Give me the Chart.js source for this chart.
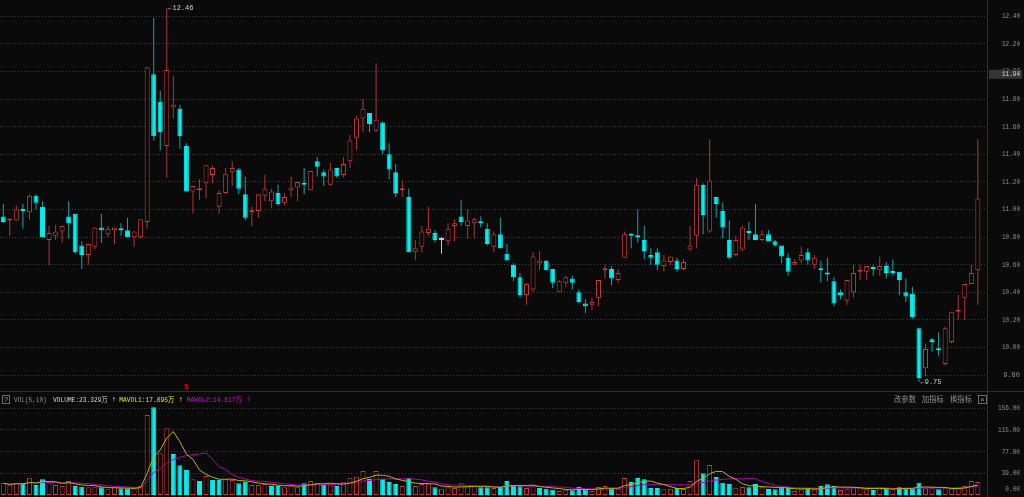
<!DOCTYPE html>
<html>
<head>
<meta charset="utf-8">
<script src="https://cdn.jsdelivr.net/npm/chart.js@4.4.0/dist/chart.umd.min.js"></script>
<style>
    html, body { margin: 0; padding: 0; background: #0a0a0a; overflow: hidden; }
    #wrap { position: relative; width: 1024px; height: 497px; }
    #price { position: absolute; left: 0; top: 0; }
    #vol { position: absolute; left: 0; top: 392px; }
</style>
</head>
<body>
<div id="wrap">
    <canvas id="price" width="1024" height="392"></canvas>
    <canvas id="vol" width="1024" height="105"></canvas>
</div>
<script>
// daily candles
const opens = [
    10.95, 10.92, 10.92, 11.00, 10.98, 11.10, 11.02, 10.78, 10.81, 10.84,
    10.95, 10.97, 10.74, 10.67, 10.73, 10.87, 10.82, 10.85, 10.86, 10.85,
    10.80, 10.80, 10.91, 11.98, 11.78, 11.46, 11.74, 11.73, 11.46, 11.13,
    11.14, 11.19, 11.25, 11.02, 11.12, 11.27, 11.29, 11.11, 10.98, 10.99,
    11.10, 11.06, 11.12, 11.05, 11.14, 11.16, 11.19, 11.14, 11.35, 11.27,
    11.18, 11.30, 11.25, 11.35, 11.52, 11.66, 11.70, 11.57, 11.63, 11.40,
    11.27, 11.14, 11.09, 10.69, 10.73, 10.83, 10.83, 10.78, 10.77, 10.88,
    10.95, 10.88, 10.90, 10.91, 10.86, 10.73, 10.82, 10.68, 10.60, 10.51,
    10.38, 10.42, 10.61, 10.63, 10.57, 10.40, 10.47, 10.50, 10.40, 10.32,
    10.31, 10.36, 10.56, 10.57, 10.49, 10.65, 10.82, 10.81, 10.78, 10.67,
    10.69, 10.59, 10.62, 10.63, 10.57, 10.71, 10.81, 11.18, 10.84, 11.09,
    10.99, 10.78, 10.67, 10.71, 10.84, 10.82, 10.78, 10.82, 10.77, 10.74,
    10.65, 10.60, 10.63, 10.69, 10.60, 10.57, 10.54, 10.48, 10.40, 10.34,
    10.40, 10.55, 10.55, 10.58, 10.56, 10.59, 10.55, 10.55, 10.40, 10.39,
    10.14, 9.85, 10.06, 9.99, 9.88, 10.04, 10.26, 10.36, 10.46, 10.56
];
const highs = [
    11.04, 10.93, 11.03, 11.04, 11.11, 11.11, 11.06, 10.88, 10.89, 10.88,
    11.06, 10.97, 10.77, 10.75, 10.87, 10.97, 10.88, 10.87, 10.90, 10.94,
    10.84, 10.93, 12.03, 12.39, 11.86, 12.46, 11.97, 11.76, 11.48, 11.17,
    11.22, 11.32, 11.32, 11.14, 11.30, 11.35, 11.30, 11.24, 11.02, 11.11,
    11.25, 11.15, 11.18, 11.12, 11.24, 11.20, 11.30, 11.28, 11.38, 11.29,
    11.34, 11.30, 11.38, 11.54, 11.68, 11.80, 11.70, 12.06, 11.64, 11.48,
    11.33, 11.21, 11.15, 10.78, 10.88, 11.02, 10.85, 10.80, 10.90, 10.93,
    11.07, 11.00, 10.94, 10.95, 10.90, 10.84, 10.94, 10.75, 10.61, 10.54,
    10.47, 10.69, 10.70, 10.63, 10.57, 10.49, 10.52, 10.52, 10.42, 10.35,
    10.36, 10.49, 10.60, 10.59, 10.57, 10.84, 10.83, 11.00, 10.88, 10.72,
    10.72, 10.67, 10.66, 10.65, 10.64, 10.88, 11.23, 11.19, 11.51, 11.09,
    11.05, 10.92, 10.81, 10.88, 10.91, 11.04, 10.85, 10.85, 10.78, 10.74,
    10.68, 10.64, 10.73, 10.72, 10.67, 10.63, 10.65, 10.51, 10.42, 10.49,
    10.60, 10.60, 10.59, 10.60, 10.66, 10.62, 10.64, 10.55, 10.50, 10.44,
    10.14, 10.03, 10.07, 10.11, 10.15, 10.26, 10.38, 10.46, 10.60, 11.51
];
const lows = [
    10.90, 10.81, 10.92, 10.86, 10.93, 11.00, 10.80, 10.60, 10.78, 10.76,
    10.79, 10.68, 10.57, 10.60, 10.71, 10.76, 10.80, 10.75, 10.81, 10.80,
    10.73, 10.79, 10.86, 11.50, 11.43, 11.23, 11.66, 11.44, 11.13, 10.97,
    11.07, 11.08, 11.19, 10.97, 11.11, 11.17, 11.11, 10.92, 10.88, 10.94,
    11.06, 11.01, 11.03, 11.03, 11.09, 11.06, 11.11, 11.14, 11.24, 11.17,
    11.17, 11.23, 11.23, 11.30, 11.43, 11.56, 11.56, 11.56, 11.40, 11.22,
    11.09, 11.09, 10.69, 10.63, 10.69, 10.81, 10.76, 10.68, 10.74, 10.77,
    10.88, 10.79, 10.79, 10.87, 10.74, 10.69, 10.72, 10.63, 10.48, 10.36,
    10.31, 10.40, 10.56, 10.56, 10.43, 10.40, 10.44, 10.42, 10.32, 10.25,
    10.27, 10.30, 10.50, 10.45, 10.47, 10.65, 10.72, 10.76, 10.64, 10.60,
    10.56, 10.55, 10.60, 10.55, 10.56, 10.70, 10.72, 10.82, 10.83, 10.94,
    10.79, 10.64, 10.66, 10.70, 10.78, 10.78, 10.77, 10.77, 10.73, 10.61,
    10.52, 10.60, 10.61, 10.60, 10.57, 10.47, 10.48, 10.30, 10.35, 10.31,
    10.36, 10.49, 10.49, 10.52, 10.52, 10.50, 10.52, 10.38, 10.33, 10.21,
    9.75, 9.79, 9.97, 9.94, 9.87, 10.03, 10.20, 10.20, 10.46, 10.31
];
const closes = [
    10.91, 10.93, 11.00, 10.99, 11.10, 11.05, 10.80, 10.83, 10.84, 10.88,
    10.90, 10.69, 10.67, 10.75, 10.87, 10.85, 10.86, 10.87, 10.85, 10.80,
    10.84, 10.93, 12.03, 11.53, 11.56, 12.01, 11.76, 11.53, 11.13, 11.17,
    11.15, 11.32, 11.30, 11.12, 11.26, 11.30, 11.15, 10.94, 10.99, 11.11,
    11.15, 11.13, 11.04, 11.09, 11.16, 11.20, 11.18, 11.28, 11.31, 11.24,
    11.29, 11.24, 11.33, 11.50, 11.66, 11.73, 11.62, 11.65, 11.43, 11.29,
    11.12, 11.15, 10.69, 10.72, 10.84, 10.86, 10.78, 10.78, 10.86, 10.90,
    10.91, 10.92, 10.93, 10.90, 10.75, 10.82, 10.72, 10.63, 10.51, 10.38,
    10.46, 10.66, 10.63, 10.56, 10.47, 10.48, 10.51, 10.47, 10.33, 10.30,
    10.33, 10.49, 10.57, 10.50, 10.54, 10.82, 10.81, 10.80, 10.70, 10.65,
    10.60, 10.63, 10.66, 10.57, 10.62, 10.74, 11.18, 10.96, 11.21, 11.04,
    10.87, 10.65, 10.78, 10.87, 10.83, 10.78, 10.82, 10.77, 10.74, 10.66,
    10.55, 10.62, 10.67, 10.63, 10.65, 10.56, 10.53, 10.32, 10.38, 10.49,
    10.54, 10.56, 10.59, 10.57, 10.59, 10.54, 10.54, 10.49, 10.37, 10.22,
    9.78, 9.99, 10.04, 9.98, 10.14, 10.26, 10.27, 10.46, 10.54, 11.08
];
// volume, in 万
const volumes = [
    21.0, 17.4, 22.2, 19.8, 31.2, 18.0, 28.2, 24.0, 18.0, 16.2,
    25.2, 16.2, 15.0, 13.8, 13.8, 13.8, 10.2, 13.8, 12.0, 12.0,
    12.0, 16.2, 144.0, 158.0, 75.0, 120.0, 73.8, 53.4, 45.0, 28.2,
    25.2, 34.2, 27.0, 27.0, 28.2, 27.0, 21.0, 24.0, 18.0, 18.0,
    19.8, 16.2, 16.2, 13.8, 17.4, 15.0, 21.0, 25.2, 22.2, 18.0,
    19.8, 16.2, 22.8, 31.2, 33.0, 43.2, 28.8, 43.2, 29.4, 23.4,
    19.8, 16.2, 31.2, 16.2, 19.8, 19.2, 13.8, 11.4, 13.8, 12.6,
    21.0, 15.6, 15.6, 13.8, 13.8, 12.6, 14.4, 25.2, 18.0, 15.6,
    12.6, 17.4, 12.6, 11.4, 9.6, 7.2, 9.6, 8.4, 14.4, 10.2,
    7.2, 14.4, 16.2, 12.6, 11.4, 30.6, 23.4, 30.6, 28.2, 12.6,
    12.6, 10.2, 11.4, 12.6, 10.8, 25.2, 62.4, 39.0, 54.0, 32.4,
    22.2, 19.8, 13.2, 14.4, 13.8, 19.8, 13.8, 10.8, 10.2, 13.8,
    13.8, 7.2, 10.2, 12.0, 10.2, 16.2, 19.2, 16.2, 9.0, 10.2,
    15.0, 13.8, 10.2, 9.0, 12.0, 12.0, 10.2, 13.8, 12.0, 12.0,
    22.2, 12.0, 12.0, 10.2, 12.0, 12.0, 12.0, 16.2, 25.2, 23.3
];

const priceTicks = [9.8, 10.0, 10.2, 10.4, 10.6, 10.8, 11.0, 11.2, 11.4, 11.6, 11.8, 12.0, 12.2, 12.4];
const volTicks = [0, 39, 78, 117, 156];
const volTickLabels = ["0.00", "39.00", "77.00", "115.00", "156.00"];
const lastPrice = 11.94;
const infoMarkIndex = 28;

const BG = "#0a0a0a";
const UP = "#c43b3b";
const UP_WICK = "#b23434";
const DOWN = "#00eeee";
const DOWN_WICK = "#0aa8a8";
const FLAT = "#c8c8c8";
const AXIS_TEXT = "#8e8e8e";
const SEP = "#303030";
const MA1_COLOR = "#b8b800";
const MA2_COLOR = "#b000b0";
const PLOT_RIGHT = 987;
const MONO = "'Liberation Mono', 'DejaVu Sans Mono', monospace";

const idx = opens.map((_, i) => i);

function candleColor(i) {
    if (closes[i] > opens[i]) return UP;
    if (closes[i] < opens[i]) return DOWN;
    return FLAT;
}

function wickColor(i) {
    if (closes[i] > opens[i]) return UP_WICK;
    if (closes[i] < opens[i]) return DOWN_WICK;
    return FLAT;
}

// volume bar colour follows close vs previous close
const volColors = idx.map(i => (i === 0 || closes[i] >= closes[i - 1]) ? UP : DOWN);

function movingAvg(vals, n) {
    return vals.map((_, i) => {
        const win = vals.slice(Math.max(0, i - n + 1), i + 1);
        return win.reduce((a, b) => a + b, 0) / win.length;
    });
}
const ma5 = movingAvg(volumes, 5);
const ma10 = movingAvg(volumes, 10);

function text(ctx, str, x, y, color, font, align, maxW) {
    ctx.fillStyle = color;
    ctx.font = font;
    ctx.textAlign = align || "left";
    ctx.textBaseline = "middle";
    if (maxW) ctx.fillText(str, x, y, maxW); else ctx.fillText(str, x, y);
}

const xScale = {type: "linear", min: -0.5, max: 150.4, offset: false, display: false};

// price panel overlays: axis labels, separators, extreme markers
const pricePlugin = {
    id: "priceDecor",
    afterDraw(chart) {
        const ctx = chart.ctx;
        const y = chart.scales.y;
        const x = chart.scales.x;
        ctx.save();
        ctx.strokeStyle = SEP;
        ctx.lineWidth = 1;
        ctx.beginPath();
        ctx.moveTo(PLOT_RIGHT + 0.5, 0);
        ctx.lineTo(PLOT_RIGHT + 0.5, 392);
        ctx.moveTo(0, 391.5);
        ctx.lineTo(1024, 391.5);
        ctx.stroke();

        priceTicks.forEach(v => {
            text(ctx, v.toFixed(2), 1020, y.getPixelForValue(v), AXIS_TEXT, "7px " + MONO, "right", 18);
        });

        // last price box
        const py = y.getPixelForValue(lastPrice);
        ctx.fillStyle = "#353535";
        ctx.fillRect(989, py - 10, 33, 9);
        text(ctx, lastPrice.toFixed(2), 1020, py - 5.5, "#d8d8d8", "7px " + MONO, "right", 18);

        // highest high / lowest low markers
        const hi = Math.max(...highs);
        const hiIdx = highs.indexOf(hi);
        const lo = Math.min(...lows);
        const loIdx = lows.indexOf(lo);
        text(ctx, "\u2190" + hi.toFixed(2), x.getPixelForValue(hiIdx) + 1.5, y.getPixelForValue(hi), "#d0d0d0", "7px " + MONO, "left", 27);
        text(ctx, "\u2190" + lo.toFixed(2), x.getPixelForValue(loIdx) + 1.5, y.getPixelForValue(lo), "#d0d0d0", "7px " + MONO, "left", 23);

        text(ctx, "$", x.getPixelForValue(infoMarkIndex), 386.5, "#e00000", "bold 8px " + MONO, "center");
        ctx.restore();
    }
};

new Chart(document.getElementById("price"), {
    type: "bar",
    data: {
        datasets: [{
            label: "wick",
            data: idx.map(i => ({x: i, y: [lows[i], highs[i]]})),
            backgroundColor: idx.map(wickColor),
            barThickness: 1,
            grouped: false,
            inflateAmount: 0,
            order: 2,
        }, {
            label: "body",
            data: idx.map(i => ({x: i, y: [opens[i], closes[i]]})),
            backgroundColor: idx.map(i => closes[i] > opens[i] ? BG : candleColor(i)),
            borderColor: idx.map(candleColor),
            borderWidth: 1,
            borderSkipped: false,
            barThickness: 5,
            minBarLength: 2,
            grouped: false,
            inflateAmount: 0,
            order: 1,
        }]
    },
    options: {
        responsive: false,
        animation: false,
        events: [],
        layout: {padding: 0},
        plugins: {legend: {display: false}, tooltip: {enabled: false}},
        scales: {
            x: xScale,
            y: {
                position: "right",
                min: 9.678,
                max: 12.518,
                afterFit: s => { s.width = 1024 - PLOT_RIGHT; },
                afterBuildTicks: s => { s.ticks = priceTicks.map(v => ({value: v})); },
                ticks: {display: false},
                grid: {color: "#3c3c3c", drawTicks: false},
                border: {display: false, dash: [1, 2]},
            }
        }
    },
    plugins: [pricePlugin],
});

// volume panel overlays: header, axis labels
const volPlugin = {
    id: "volDecor",
    afterDraw(chart) {
        const ctx = chart.ctx;
        const y = chart.scales.y;
        ctx.save();
        ctx.strokeStyle = SEP;
        ctx.lineWidth = 1;
        ctx.beginPath();
        ctx.moveTo(PLOT_RIGHT + 0.5, 0);
        ctx.lineTo(PLOT_RIGHT + 0.5, 105);
        ctx.stroke();

        volTicks.forEach((v, k) => {
            const ty = Math.min(y.getPixelForValue(v), chart.chartArea.bottom - 8);
            text(ctx, volTickLabels[k], 1020, ty, AXIS_TEXT, "7px " + MONO, "right", volTickLabels[k].length * 3.66);
        });

        // header
        ctx.strokeStyle = "#6a6a6a";
        ctx.strokeRect(2.5, 3.5, 7, 8);
        text(ctx, "?", 6, 8, "#9a9a9a", "7px " + MONO, "center");
        text(ctx, "VOL(5,10)", 14, 8, AXIS_TEXT, "7px " + MONO, "left", 32.7);
        text(ctx, "VOLUME:23.329万", 53, 8, "#d4d4d4", "7px " + MONO + ", 'Noto Sans CJK SC'", "left", 54.6);
        text(ctx, "\u2191", 114, 8, "#d4d4d4", "8px " + MONO, "center");
        text(ctx, "MAVOL1:17.095万", 119.3, 8, "#e6e600", "7px " + MONO + ", 'Noto Sans CJK SC'", "left", 55);
        text(ctx, "\u2191", 181, 8, "#e6e600", "8px " + MONO, "center");
        text(ctx, "MAVOL2:14.817万", 186.7, 8, "#e600e6", "7px " + MONO + ", 'Noto Sans CJK SC'", "left", 55);
        text(ctx, "\u2191", 248.3, 8, "#e600e6", "8px " + MONO, "center");

        const cjk = "7.5px 'Noto Sans CJK SC'";
        text(ctx, "改参数", 894, 7.5, AXIS_TEXT, cjk, "left", 22);
        text(ctx, "加指标", 921.7, 7.5, AXIS_TEXT, cjk, "left", 22);
        text(ctx, "换指标", 950, 7.5, AXIS_TEXT, cjk, "left", 22);
        ctx.strokeStyle = "#6a6a6a";
        ctx.strokeRect(978.5, 3.5, 8, 8);
        text(ctx, "\u00d7", 982.5, 7.5, "#9a9a9a", "8px " + MONO, "center");
        ctx.restore();
    }
};

new Chart(document.getElementById("vol"), {
    type: "bar",
    data: {
        datasets: [{
            type: "line",
            label: "MAVOL1",
            data: idx.map(i => ({x: i, y: ma5[i]})),
            borderColor: MA1_COLOR,
            borderWidth: 1,
            pointRadius: 0,
            tension: 0,
            order: 0,
        }, {
            type: "line",
            label: "MAVOL2",
            data: idx.map(i => ({x: i, y: ma10[i]})),
            borderColor: MA2_COLOR,
            borderWidth: 1,
            pointRadius: 0,
            tension: 0,
            order: 0,
        }, {
            label: "VOLUME",
            data: idx.map(i => ({x: i, y: volumes[i]})),
            backgroundColor: volColors.map(c => c === UP ? BG : DOWN),
            borderColor: volColors,
            borderWidth: 1,
            borderSkipped: false,
            barThickness: 5,
            inflateAmount: 0,
            order: 1,
        }]
    },
    options: {
        responsive: false,
        animation: false,
        events: [],
        layout: {padding: 0},
        plugins: {legend: {display: false}, tooltip: {enabled: false}},
        scales: {
            x: xScale,
            y: {
                position: "right",
                min: -3.6,
                max: 185.3,
                afterFit: s => { s.width = 1024 - PLOT_RIGHT; },
                afterBuildTicks: s => { s.ticks = volTicks.filter(v => v > 0).map(v => ({value: v})); },
                ticks: {display: false},
                grid: {color: "#3c3c3c", drawTicks: false},
                border: {display: false, dash: [1, 2]},
            }
        }
    },
    plugins: [volPlugin],
});
</script>
</body>
</html>
